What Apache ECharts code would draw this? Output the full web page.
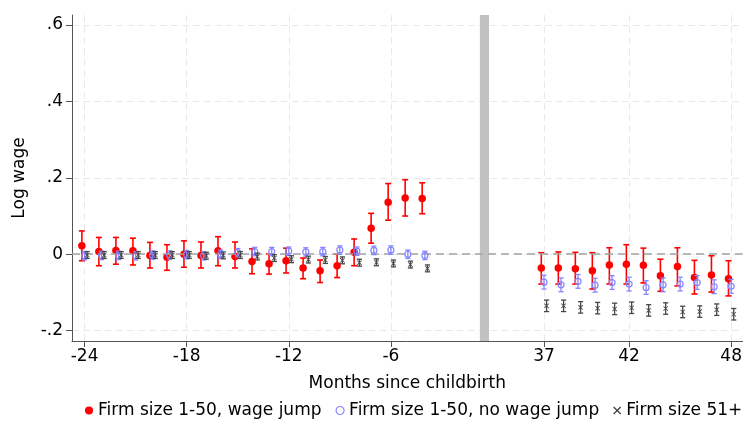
<!DOCTYPE html>
<html>
<head>
<meta charset="utf-8">
<script src="https://cdn.jsdelivr.net/npm/echarts@6/dist/echarts.min.js"></script>
<style>
  html, body { margin: 0; padding: 0; background: #fff; }
  #chart { width: 745px; height: 432px; }
</style>
</head>
<body>
<div id="chart"></div>
<script>
// Months shown before and after childbirth
const preMonths  = [-24, -23, -22, -21, -20, -19, -18, -17, -16, -15, -14, -13, -12, -11, -10, -9, -8, -7, -6, -5, -4];
const postMonths = [37, 38, 39, 40, 41, 42, 43, 44, 45, 46, 47, 48];

// Tick labels on the month axis
const xTickMonths = [-24, -18, -12, -6, 37, 42, 48];
// Tick values on the log-wage axis
const yTicks = [-0.2, 0, 0.2, 0.4, 0.6];

// Firm size 1-50, wage jump: point estimate and 95% interval
const jumpPre    = [0.022, 0.007, 0.010, 0.009, -0.003, -0.008, 0.000, -0.003, 0.009, -0.006, -0.019, -0.025, -0.017, -0.036, -0.043, -0.030, 0.005, 0.068, 0.136, 0.147, 0.146];
const jumpPreLo  = [-0.017, -0.030, -0.026, -0.028, -0.036, -0.042, -0.034, -0.036, -0.030, -0.036, -0.051, -0.052, -0.049, -0.064, -0.074, -0.061, -0.030, 0.029, 0.089, 0.100, 0.106];
const jumpPreHi  = [0.061, 0.044, 0.044, 0.042, 0.031, 0.025, 0.035, 0.032, 0.046, 0.032, 0.014, 0.001, 0.016, -0.010, -0.015, 0.000, 0.040, 0.107, 0.185, 0.195, 0.187];
const jumpPost   = [-0.036, -0.036, -0.038, -0.043, -0.028, -0.026, -0.029, -0.056, -0.032, -0.061, -0.054, -0.064];
const jumpPostLo = [-0.078, -0.078, -0.078, -0.091, -0.078, -0.078, -0.075, -0.097, -0.083, -0.104, -0.099, -0.109];
const jumpPostHi = [0.004, 0.006, 0.005, 0.004, 0.017, 0.025, 0.016, -0.013, 0.017, -0.016, -0.004, -0.017];

// Firm size 1-50, no wage jump
const noJumpPre    = [-0.004, -0.003, -0.003, -0.004, -0.002, -0.002, -0.001, -0.004, 0.000, 0.004, 0.007, 0.007, 0.008, 0.006, 0.007, 0.011, 0.008, 0.010, 0.011, 0.000, -0.003];
const noJumpPreLo  = [-0.015, -0.014, -0.014, -0.015, -0.013, -0.013, -0.012, -0.015, -0.011, -0.007, -0.004, -0.004, -0.003, -0.005, -0.004, 0.000, -0.003, -0.001, 0.000, -0.011, -0.014];
const noJumpPreHi  = [0.007, 0.008, 0.008, 0.007, 0.009, 0.009, 0.010, 0.007, 0.011, 0.015, 0.018, 0.018, 0.019, 0.017, 0.018, 0.022, 0.019, 0.021, 0.022, 0.011, 0.008];
const noJumpPost   = [-0.073, -0.080, -0.071, -0.081, -0.074, -0.078, -0.087, -0.080, -0.078, -0.074, -0.085, -0.084];
const noJumpPostLo = [-0.091, -0.098, -0.089, -0.099, -0.092, -0.096, -0.105, -0.098, -0.096, -0.092, -0.103, -0.102];
const noJumpPostHi = [-0.055, -0.062, -0.053, -0.063, -0.056, -0.060, -0.069, -0.062, -0.060, -0.056, -0.067, -0.066];

// Firm size 51+
const largePre    = [-0.002, -0.002, -0.002, -0.002, -0.002, -0.002, -0.002, -0.004, -0.003, -0.002, -0.006, -0.010, -0.013, -0.014, -0.015, -0.016, -0.022, -0.021, -0.024, -0.027, -0.037];
const largePreLo  = [-0.011, -0.011, -0.011, -0.011, -0.011, -0.011, -0.011, -0.013, -0.012, -0.011, -0.015, -0.019, -0.022, -0.023, -0.024, -0.025, -0.031, -0.030, -0.033, -0.036, -0.046];
const largePreHi  = [0.007, 0.007, 0.007, 0.007, 0.007, 0.007, 0.007, 0.005, 0.006, 0.007, 0.003, -0.001, -0.004, -0.005, -0.006, -0.007, -0.013, -0.012, -0.015, -0.018, -0.028];
const largePost   = [-0.135, -0.135, -0.139, -0.141, -0.143, -0.140, -0.147, -0.142, -0.151, -0.150, -0.145, -0.157];
const largePostLo = [-0.150, -0.150, -0.154, -0.156, -0.158, -0.155, -0.162, -0.157, -0.166, -0.165, -0.160, -0.172];
const largePostHi = [-0.120, -0.120, -0.124, -0.126, -0.128, -0.125, -0.132, -0.127, -0.136, -0.135, -0.130, -0.142];

// The axis skips months -3..36: post-birth months are drawn shifted left
const POST_SHIFT = 34;
const toPos = m => (m > 0 ? m - POST_SHIFT : m);

// Small horizontal dodge so the three groups do not overlap
const DODGE = { jump: -0.16, noJump: 0, large: 0.15 };

function points(pre, post, dodge) {
  const out = [];
  preMonths.forEach((m, i) => out.push([toPos(m) + dodge, pre[i]]));
  postMonths.forEach((m, i) => out.push([toPos(m) + dodge, post[i]]));
  return out;
}
function intervals(preLo, preHi, postLo, postHi, dodge) {
  const out = [];
  preMonths.forEach((m, i) => out.push([toPos(m) + dodge, preLo[i], preHi[i]]));
  postMonths.forEach((m, i) => out.push([toPos(m) + dodge, postLo[i], postHi[i]]));
  return out;
}

function capBars(color, capHalf, width) {
  return function (params, api) {
    const x = api.value(0);
    const top = api.coord([x, api.value(2)]);
    const bot = api.coord([x, api.value(1)]);
    const style = { stroke: color, lineWidth: width };
    return {
      type: 'group',
      children: [
        { type: 'line', shape: { x1: top[0], y1: top[1], x2: bot[0], y2: bot[1] }, style },
        { type: 'line', shape: { x1: top[0] - capHalf, y1: top[1], x2: top[0] + capHalf, y2: top[1] }, style },
        { type: 'line', shape: { x1: bot[0] - capHalf, y1: bot[1], x2: bot[0] + capHalf, y2: bot[1] }, style }
      ]
    };
  };
}

const RED = '#ff0000';
const BLUE = '#8585ff';
const DARK = '#474747';
const FONT = 'DejaVu Sans';
const CROSS = 'path://M0,1.2L1.2,0L5,3.8L8.8,0L10,1.2L6.2,5L10,8.8L8.8,10L5,6.2L1.2,10L0,8.8L3.8,5Z';

const chart = echarts.init(document.getElementById('chart'), null, { renderer: 'canvas' });

chart.setOption({
  animation: false,
  backgroundColor: '#fff',
  textStyle: { fontFamily: FONT },
  grid: { left: 72, right: 0, top: 15, bottom: 91, containLabel: false },
  xAxis: {
    type: 'value',
    min: -24.74,
    max: 14.67,
    name: 'Months since childbirth',
    nameLocation: 'middle',
    nameGap: 34,
    nameTextStyle: { fontFamily: FONT, fontSize: 17, color: '#000' },
    axisLine: { show: true, onZero: false, lineStyle: { color: '#555', width: 1 } },
    axisTick: { show: true, length: 6, customValues: xTickMonths.map(toPos), lineStyle: { color: '#555' } },
    axisLabel: {
      customValues: xTickMonths.map(toPos),
      margin: 7,
      fontFamily: FONT, fontSize: 17, color: '#000',
      formatter: v => String(v > 0 ? v + POST_SHIFT : v)
    },
    splitLine: { show: true, lineStyle: { color: '#e9e9e9', type: [7, 4], width: 1 } }
  },
  yAxis: {
    type: 'value',
    min: -0.227,
    max: 0.626,
    name: 'Log wage',
    nameLocation: 'middle',
    nameGap: 44,
    nameRotate: 90,
    nameTextStyle: { fontFamily: FONT, fontSize: 17, color: '#000' },
    axisLine: { show: true, onZero: false, lineStyle: { color: '#555', width: 1 } },
    axisTick: { show: true, length: 6, customValues: yTicks, lineStyle: { color: '#555' } },
    axisLabel: {
      customValues: yTicks,
      margin: 9,
      fontFamily: FONT, fontSize: 17, color: '#000',
      formatter: v => {
        const r = Math.round(v * 10) / 10;
        if (r === 0) return '0';
        return (r < 0 ? '-' : '') + String(Math.abs(r)).replace(/^0/, '');
      }
    },
    splitLine: { show: true, lineStyle: { color: '#e9e9e9', type: [7, 4], width: 1 } }
  },
  legend: {
    top: 402,
    left: 85,
    width: 740,
    padding: 0,
    itemGap: 14,
    itemWidth: 8,
    itemHeight: 8,
    textStyle: { fontFamily: FONT, fontSize: 17, color: '#000' },
    data: [
      { name: 'Firm size 1-50, wage jump', icon: 'circle' },
      { name: 'Firm size 1-50, no wage jump', icon: 'circle', itemStyle: { color: '#fff', borderColor: BLUE, borderWidth: 1.2 } },
      { name: 'Firm size 51+', icon: CROSS }
    ]
  },
  series: [
    {
      // childbirth marker band and the zero reference line
      type: 'line',
      data: [],
      z: 1,
      silent: true,
      markArea: {
        silent: true,
        itemStyle: { color: '#c1c1c1', opacity: 1 },
        data: [[{ xAxis: -0.77 }, { xAxis: -0.23 }]]
      },
      markLine: {
        silent: true,
        symbol: ['none', 'none'],
        label: { show: false },
        lineStyle: { color: '#a3a3a3', type: [8, 5], width: 1.5 },
        data: [{ yAxis: 0 }]
      }
    },
    {
      type: 'custom',
      name: 'jumpCI',
      z: 3,
      renderItem: capBars(RED, 3, 1.6),
      encode: { x: 0, y: [1, 2] },
      data: intervals(jumpPreLo, jumpPreHi, jumpPostLo, jumpPostHi, DODGE.jump)
    },
    {
      type: 'scatter',
      name: 'Firm size 1-50, wage jump',
      z: 4,
      symbol: 'circle',
      symbolSize: 7.5,
      itemStyle: { color: RED, opacity: 1 },
      data: points(jumpPre, jumpPost, DODGE.jump)
    },
    {
      type: 'custom',
      name: 'noJumpCI',
      z: 5,
      renderItem: capBars(BLUE, 2.6, 1.3),
      encode: { x: 0, y: [1, 2] },
      data: intervals(noJumpPreLo, noJumpPreHi, noJumpPostLo, noJumpPostHi, DODGE.noJump)
    },
    {
      type: 'scatter',
      name: 'Firm size 1-50, no wage jump',
      z: 6,
      symbol: 'circle',
      symbolSize: 6,
      itemStyle: { color: 'rgba(0,0,0,0)', borderColor: BLUE, borderWidth: 1.2, opacity: 1 },
      data: points(noJumpPre, noJumpPost, DODGE.noJump)
    },
    {
      type: 'custom',
      name: 'largeCI',
      z: 7,
      renderItem: capBars(DARK, 2.6, 1.3),
      encode: { x: 0, y: [1, 2] },
      data: intervals(largePreLo, largePreHi, largePostLo, largePostHi, DODGE.large)
    },
    {
      type: 'scatter',
      name: 'Firm size 51+',
      z: 8,
      symbol: CROSS,
      symbolSize: 5,
      itemStyle: { color: DARK, opacity: 1 },
      data: points(largePre, largePost, DODGE.large)
    }
  ]
});
</script>
</body>
</html>
